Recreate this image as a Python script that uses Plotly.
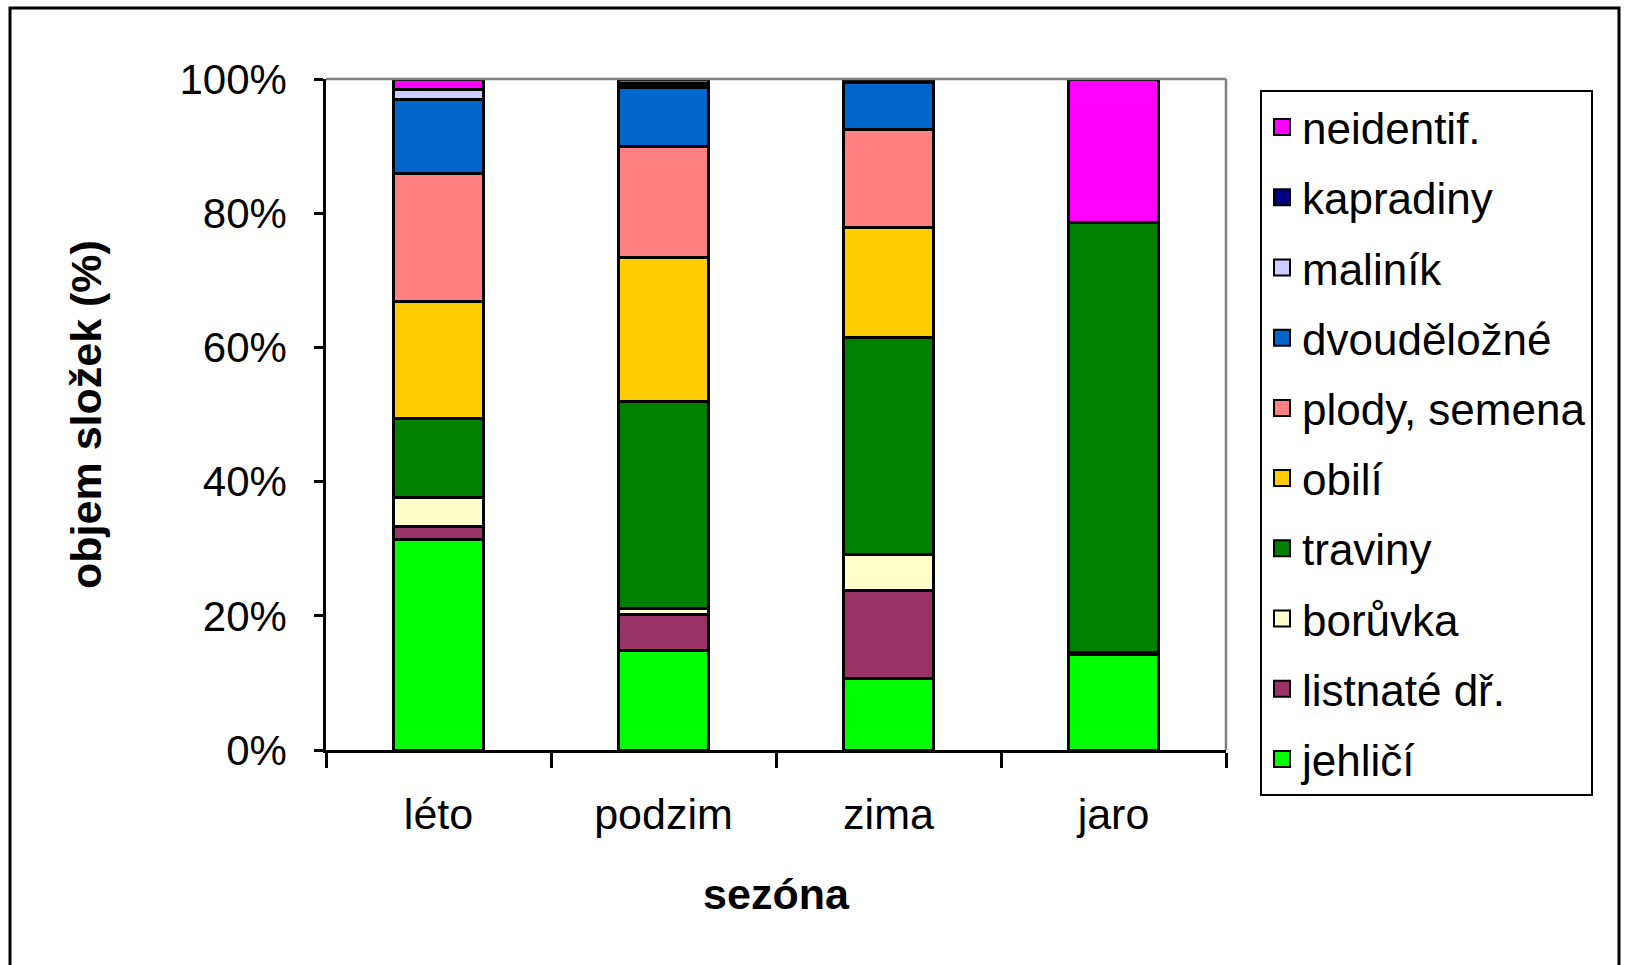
import plotly.graph_objects as go

seasons = ["léto", "podzim", "zima", "jaro"]

jehlici = [31.4, 14.8, 10.7, 14.2]
listnate = [1.9, 5.4, 13.1, 0.4]
boruvka = [4.4, 0.9, 5.3, 0.0]
traviny = [11.7, 30.8, 32.4, 64.0]
obili = [17.4, 21.5, 16.4, 0.0]
plody = [19.1, 16.5, 14.6, 0.0]
dvoudelozne = [11.0, 8.9, 7.0, 0.0]
malinik = [1.5, 0.0, 0.0, 0.0]
kapradiny = [0.0, 0.5, 0.5, 0.0]
neidentif = [1.6, 0.6, 0.0, 21.4]

series_names = ["jehličí", "listnaté dř.", "borůvka", "traviny", "obilí",
                "plody, semena", "dvouděložné", "maliník", "kapradiny", "neidentif."]
series_values = [jehlici, listnate, boruvka, traviny, obili,
                 plody, dvoudelozne, malinik, kapradiny, neidentif]
series_colors = ["#00FF00", "#993366", "#FFFFCC", "#008000", "#FFCC00",
                 "#FF8080", "#0066CC", "#CCCCFF", "#000080", "#FF00FF"]

FONT = "Liberation Sans, Arial, sans-serif"

fig = go.Figure()
n = len(series_names)
for i, (name, vals, col) in enumerate(zip(series_names, series_values, series_colors)):
    fig.add_trace(go.Bar(
        x=seasons, y=vals, name=name, legendgroup=name,
        showlegend=False,
        marker=dict(color=col, line=dict(color="black", width=3)),
    ))
# legend entries with larger square swatches (no data drawn)
for i, (name, col) in enumerate(zip(series_names, series_colors)):
    fig.add_trace(go.Scatter(
        x=[None], y=[None], mode="markers", name=name, legendgroup=name,
        legendrank=n - i, showlegend=True, hoverinfo="skip",
        marker=dict(symbol="square", size=16, color=col,
                    line=dict(color="black", width=2)),
    ))

W, H = 1627, 965
L, R, T, B = 326, 401, 79, 215
pw, ph = W - L - R, H - T - B

def px_x(p):
    return (p - L) / pw

def px_y(p):
    return (H - B - p) / ph

fig.update_layout(
    width=W, height=H,
    margin=dict(l=L, r=R, t=T, b=B),
    barmode="stack",
    bargap=0.6,
    plot_bgcolor="white",
    paper_bgcolor="white",
    font=dict(family=FONT, size=42, color="black"),
    showlegend=True,
    legend=dict(
        traceorder="grouped",
        itemsizing="trace",
        x=px_x(1260), y=px_y(90), xanchor="left", yanchor="top",
        bordercolor="black", borderwidth=2,
        font=dict(family=FONT, size=44, color="black"),
        tracegroupgap=10,
        maxheight=850,
        bgcolor="white",
    ),
    xaxis=dict(
        type="category",
        showline=True, linecolor="black", linewidth=2.5,
        ticks="outside", tickson="boundaries", ticklen=15, tickwidth=2.5,
        tickcolor="black",
        tickfont=dict(family=FONT, size=43),
        ticklabelstandoff=25,
        title=dict(text="<b>sezóna</b>", font=dict(family=FONT, size=43), standoff=42),
    ),
    yaxis=dict(
        range=[0, 100], dtick=20, ticksuffix="%",
        showgrid=False, zeroline=False,
        showline=True, linecolor="black", linewidth=2.5,
        ticks="outside", ticklen=9, tickwidth=2.5, tickcolor="black",
        tickfont=dict(family=FONT, size=42),
        ticklabelstandoff=19,
        title=dict(text="<b>objem složek (%)</b>", font=dict(family=FONT, size=43), standoff=65),
    ),
    shapes=[
        dict(type="line", xref="paper", yref="paper", x0=0, x1=1, y0=1, y1=1,
             line=dict(color="#808080", width=2.5)),
        dict(type="line", xref="paper", yref="paper", x0=1, x1=1, y0=0, y1=1,
             line=dict(color="#808080", width=2.5)),
        dict(type="rect", xref="paper", yref="paper",
             x0=px_x(10), x1=px_x(1619), y0=px_y(1000), y1=px_y(8),
             line=dict(color="black", width=3), fillcolor="rgba(0,0,0,0)", layer="below"),
    ],
)

fig.write_html("out.html", config={"displayModeBar": False},
               post_script="document.body.style.margin='0';")
